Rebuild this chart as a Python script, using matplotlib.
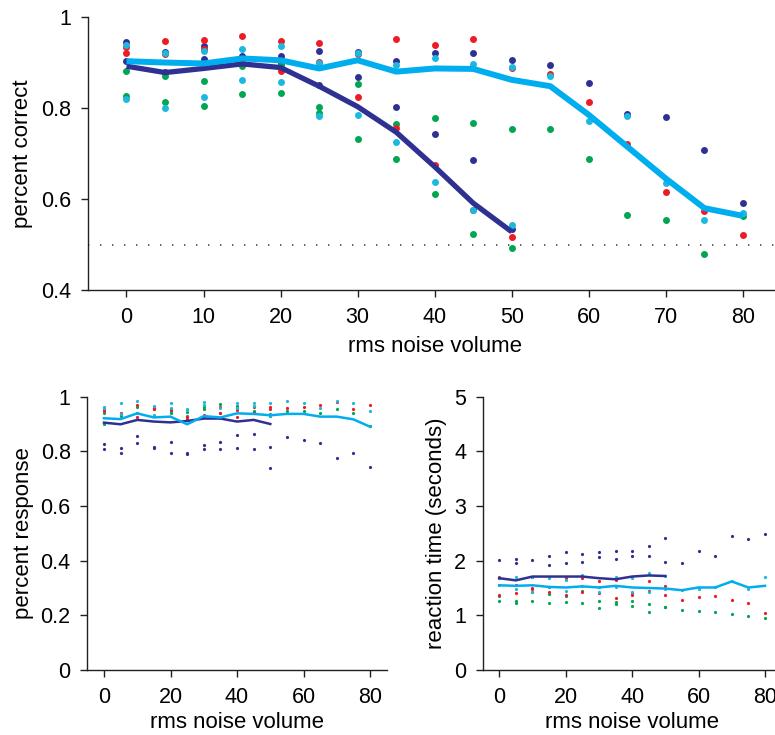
import matplotlib
matplotlib.use('Agg')

import matplotlib.pyplot as plt
from matplotlib.ticker import FuncFormatter

plt.rcParams['font.family'] = ['Liberation Sans', 'DejaVu Sans']
plt.rcParams['font.size'] = 16

# --- data ---
noise_a = [0, 5, 10, 15, 20, 25, 30, 35, 40, 45, 50, 55, 60, 65, 70, 75, 80]
noise_b = [0, 5, 10, 15, 20, 25, 30, 35, 40, 45, 50]

# percent correct, per subject, condition a (0-80) and b (0-50)
corr_navy_a = [0.946, 0.924, 0.936, 0.914, 0.914, 0.926, 0.924, 0.903, 0.920, 0.921, 0.905, 0.894, 0.856, 0.787, 0.780, 0.708, 0.591]
corr_navy_b = [0.903, 0.880, 0.908, 0.905, 0.898, 0.850, 0.869, 0.803, 0.744, 0.686, 0.535]
corr_red_a = [0.935, 0.947, 0.950, 0.959, 0.947, 0.942, 0.918, 0.952, 0.938, 0.952, 0.889, 0.874, 0.813, 0.721, 0.616, 0.574, 0.521]
corr_red_b = [0.922, 0.919, 0.930, 0.900, 0.881, 0.902, 0.824, 0.757, 0.675, 0.576, 0.517]
corr_green_a = [0.882, 0.870, 0.860, 0.892, 0.895, 0.802, 0.852, 0.766, 0.778, 0.768, 0.755, 0.753, 0.689, 0.565, 0.554, 0.479, 0.563]
corr_green_b = [0.827, 0.814, 0.804, 0.831, 0.834, 0.790, 0.731, 0.689, 0.612, 0.523, 0.493]
corr_cyan_a = [0.938, 0.922, 0.925, 0.930, 0.936, 0.900, 0.920, 0.895, 0.911, 0.897, 0.891, 0.870, 0.771, 0.782, 0.636, 0.555, 0.569]
corr_cyan_b = [0.819, 0.801, 0.825, 0.862, 0.858, 0.782, 0.785, 0.725, 0.637, 0.577, 0.544]
corr_mean_a = [0.903, 0.900, 0.898, 0.909, 0.905, 0.887, 0.905, 0.880, 0.887, 0.886, 0.862, 0.848, 0.785, 0.715, 0.645, 0.580, 0.563]
corr_mean_b = [0.892, 0.878, 0.887, 0.897, 0.889, 0.848, 0.803, 0.747, 0.671, 0.591, 0.528]

# percent response
resp_navy_a = [0.827, 0.811, 0.856, 0.817, 0.834, 0.793, 0.823, 0.834, 0.860, 0.862, 0.817, 0.851, 0.841, 0.832, 0.777, 0.793, 0.741]
resp_navy_b = [0.810, 0.793, 0.832, 0.811, 0.795, 0.790, 0.810, 0.810, 0.811, 0.807, 0.738]
resp_red_a = [0.954, 0.942, 0.970, 0.960, 0.955, 0.918, 0.933, 0.963, 0.951, 0.963, 0.961, 0.960, 0.961, 0.969, 0.982, 0.955, 0.969]
resp_red_b = [0.948, 0.935, 0.927, 0.955, 0.950, 0.925, 0.930, 0.940, 0.927, 0.939, 0.954]
resp_green_a = [0.941, 0.937, 0.961, 0.958, 0.948, 0.945, 0.963, 0.973, 0.967, 0.949, 0.937, 0.949, 0.949, 0.942, 0.955, 0.939, 0.894]
resp_green_b = [0.900, 0.930, 0.940, 0.955, 0.940, 0.929, 0.955, 0.939, 0.958, 0.945, 0.930]
resp_cyan_a = [0.963, 0.976, 0.984, 0.966, 0.976, 0.955, 0.979, 0.923, 0.978, 0.976, 0.976, 0.984, 0.978, 0.958, 0.985, 0.976, 0.947]
resp_cyan_b = [0.960, 0.935, 0.940, 0.933, 0.960, 0.950, 0.969, 0.960, 0.960, 0.965, 0.930]
resp_mean_a = [0.921, 0.918, 0.939, 0.924, 0.927, 0.899, 0.929, 0.924, 0.939, 0.937, 0.932, 0.937, 0.937, 0.927, 0.927, 0.917, 0.890]
resp_mean_b = [0.905, 0.899, 0.915, 0.909, 0.906, 0.911, 0.920, 0.920, 0.909, 0.915, 0.900]

# reaction time (s)
rt_navy_a = [2.01, 2.04, 2.02, 2.085, 2.16, 2.12, 2.15, 2.18, 2.18, 2.27, 2.41, 1.95, 2.17, 2.09, 2.46, 2.40, 2.49]
rt_navy_b = [1.68, 1.95, 1.71, 1.93, 1.96, 1.98, 2.07, 2.03, 2.085, 2.09, 1.98]
rt_red_a = [1.71, 1.55, 1.48, 1.52, 1.68, 1.68, 1.63, 1.646, 1.37, 1.63, 1.54, 1.28, 1.33, 1.36, 1.29, 1.22, 1.04]
rt_red_b = [1.37, 1.40, 1.50, 1.42, 1.37, 1.42, 1.40, 1.31, 1.40, 1.45, 1.37]
rt_green_a = [1.36, 1.26, 1.42, 1.39, 1.36, 1.45, 1.26, 1.25, 1.26, 1.21, 1.16, 1.10, 1.085, 1.06, 1.02, 0.98, 0.95]
rt_green_b = [1.26, 1.23, 1.27, 1.23, 1.25, 1.22, 1.13, 1.20, 1.165, 1.07, 1.15]
rt_cyan_a = [1.68, 1.70, 1.71, 1.69, 1.65, 1.73, 1.51, 1.70, 1.68, 1.78, 1.72, 1.47, 1.485, 1.52, 1.62, 1.485, 1.71]
rt_cyan_b = [1.55, 1.49, 1.42, 1.52, 1.45, 1.53, 1.43, 1.52, 1.43, 1.42, 1.49]
rt_mean_a = [1.55, 1.54, 1.55, 1.52, 1.51, 1.53, 1.51, 1.54, 1.51, 1.50, 1.49, 1.46, 1.51, 1.51, 1.62, 1.51, 1.54]
rt_mean_b = [1.68, 1.64, 1.71, 1.71, 1.71, 1.71, 1.68, 1.66, 1.71, 1.73, 1.72]

NAVY = '#2E3192'
RED = '#ED1C24'
GREEN = '#00A651'
CYAN = '#00AEEF'
DOTCYAN = '#1CB8DE'
AXCOL = '#231F20'


def style(ax):
    for s in ['top', 'right']:
        ax.spines[s].set_visible(False)
    for s in ['left', 'bottom']:
        ax.spines[s].set_color(AXCOL)
        ax.spines[s].set_linewidth(1.0)
    ax.tick_params(direction='out', length=5, width=1.0, color=AXCOL, pad=7,
                   labelsize=15.5)
    ax.yaxis.set_major_formatter(FuncFormatter(lambda v, p: '%g' % v))


def dots(ax, sets, ms):
    for xs, ys, c in sets:
        ax.plot(xs, ys, 'o', color=c, ms=ms, mec='none', zorder=2)


fig = plt.figure(figsize=(7.75, 7.35), dpi=100)

# --- top: percent correct ---
ax1 = fig.add_axes([0.1135, 0.6054, 0.8948, 0.3714])
style(ax1)
ax1.axhline(0.5, color='#444444', lw=1.2, linestyle=(0, (0.8, 6.4)), zorder=1)
dots(ax1, [(noise_a, corr_navy_a, NAVY), (noise_b, corr_navy_b, NAVY),
           (noise_a, corr_green_a, GREEN), (noise_b, corr_green_b, GREEN),
           (noise_a, corr_red_a, RED), (noise_b, corr_red_b, RED),
           (noise_a, corr_cyan_a, DOTCYAN), (noise_b, corr_cyan_b, DOTCYAN)], 5)
ax1.plot(noise_b, corr_mean_b, color=NAVY, lw=3.8, solid_capstyle='butt', zorder=3)
ax1.plot(noise_a, corr_mean_a, color=CYAN, lw=4.3, solid_capstyle='butt', zorder=4)
ax1.set_xlim(-5, 85)
ax1.set_ylim(0.4, 1)
ax1.set_xticks(range(0, 81, 10))
ax1.set_yticks([0.4, 0.6, 0.8, 1])
ax1.set_xlabel('rms noise volume', labelpad=6)
ax1.set_ylabel('percent correct', labelpad=6)

# --- bottom left: percent response ---
ax2 = fig.add_axes([0.1127, 0.0884, 0.3863, 0.3719])
style(ax2)
dots(ax2, [(noise_a, resp_navy_a, NAVY), (noise_b, resp_navy_b, NAVY),
           (noise_a, resp_green_a, GREEN), (noise_b, resp_green_b, GREEN),
           (noise_a, resp_red_a, RED), (noise_b, resp_red_b, RED),
           (noise_a, resp_cyan_a, DOTCYAN), (noise_b, resp_cyan_b, DOTCYAN)], 2.3)
ax2.plot(noise_b, resp_mean_b, color=NAVY, lw=1.8, zorder=3)
ax2.plot(noise_a, resp_mean_a, color=CYAN, lw=1.8, zorder=4)
ax2.set_xlim(-5, 85)
ax2.set_ylim(0, 1)
ax2.set_xticks(range(0, 81, 20))
ax2.set_yticks([0, 0.2, 0.4, 0.6, 0.8, 1])
ax2.set_xlabel('rms noise volume', labelpad=3)
ax2.set_ylabel('percent response', labelpad=5)

# --- bottom right: reaction time ---
ax3 = fig.add_axes([0.6228, 0.0884, 0.3857, 0.3719])
style(ax3)
dots(ax3, [(noise_a, rt_navy_a, NAVY), (noise_b, rt_navy_b, NAVY),
           (noise_a, rt_green_a, GREEN), (noise_b, rt_green_b, GREEN),
           (noise_a, rt_red_a, RED), (noise_b, rt_red_b, RED),
           (noise_a, rt_cyan_a, DOTCYAN), (noise_b, rt_cyan_b, DOTCYAN)], 2.3)
ax3.plot(noise_b, rt_mean_b, color=NAVY, lw=1.8, zorder=3)
ax3.plot(noise_a, rt_mean_a, color=CYAN, lw=1.8, zorder=4)
ax3.set_xlim(-5, 85)
ax3.set_ylim(0, 5)
ax3.set_xticks(range(0, 81, 20))
ax3.set_yticks(range(0, 6))
ax3.set_xlabel('rms noise volume', labelpad=3)
ax3.set_ylabel('reaction time (seconds)', labelpad=5)

fig.savefig('out.png', dpi=100)
